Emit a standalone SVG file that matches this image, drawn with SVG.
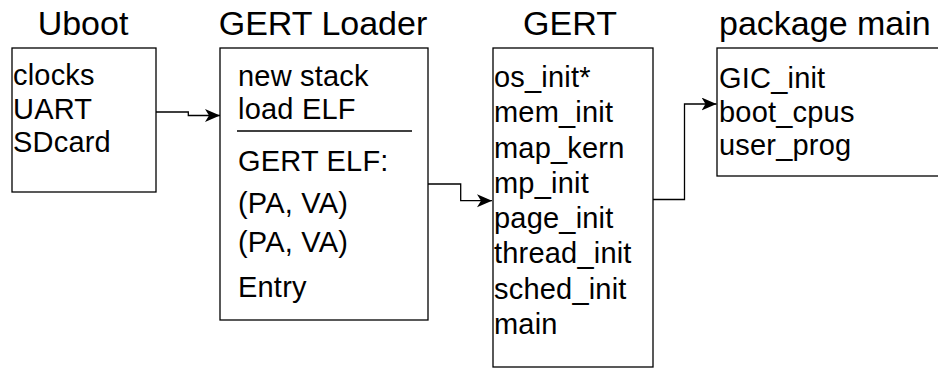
<svg xmlns="http://www.w3.org/2000/svg" width="938" height="368" viewBox="0 0 938 368">
<style>
  .box { fill: #fff; stroke: #000; stroke-width: 1.3; }
  .title { font-family: "Liberation Sans", Arial, sans-serif; font-size: 34px; fill: #000; }
  .t { font-family: "Liberation Sans", Arial, sans-serif; font-size: 29px; letter-spacing: 0.2px; fill: #000; }
  .edge { fill: none; stroke: #000; stroke-width: 1.3; marker-end: url(#arr); }
</style>
<defs>
  <marker id="arr" markerUnits="userSpaceOnUse" markerWidth="16" markerHeight="14" refX="15" refY="6.5" orient="auto">
    <path d="M0,0 L15,6.5 L0,13 L4,6.5 Z" fill="#000"/>
  </marker>
</defs>
<rect width="938" height="368" fill="#fff"/>

<g id="uboot">
  <text class="title" x="83" y="35" text-anchor="middle">Uboot</text>
  <rect class="box" x="12" y="48" width="144" height="144"/>
  <text class="t" x="13" y="85">clocks</text>
  <text class="t" x="13" y="119">UART</text>
  <text class="t" x="13" y="152">SDcard</text>
</g>

<g id="loader">
  <text class="title" x="323" y="35" text-anchor="middle">GERT Loader</text>
  <rect class="box" x="220" y="48" width="208" height="272"/>
  <text class="t" x="238" y="86">new stack</text>
  <text class="t" x="238" y="119">load ELF</text>
  <line x1="237" y1="131" x2="412" y2="131" stroke="#000" stroke-width="1.3"/>
  <text class="t" x="238" y="171">GERT ELF:</text>
  <text class="t" x="238" y="213">(PA, VA)</text>
  <text class="t" x="238" y="252">(PA, VA)</text>
  <text class="t" x="238" y="297">Entry</text>
</g>

<g id="gert">
  <text class="title" x="570" y="35" text-anchor="middle">GERT</text>
  <rect class="box" x="493" y="48" width="160" height="319"/>
  <text class="t" x="494" y="87">os_init*</text>
  <text class="t" x="494" y="122.3">mem_init</text>
  <text class="t" x="494" y="157.6">map_kern</text>
  <text class="t" x="494" y="192.9">mp_init</text>
  <text class="t" x="494" y="228.1">page_init</text>
  <text class="t" x="494" y="263.4">thread_init</text>
  <text class="t" x="494" y="298.7">sched_init</text>
  <text class="t" x="494" y="334">main</text>
</g>

<g id="pkgmain">
  <text class="title" x="719" y="35">package main</text>
  <rect class="box" x="717" y="48" width="240" height="128"/>
  <text class="t" x="719" y="88">GIC_init</text>
  <text class="t" x="719" y="122">boot_cpus</text>
  <text class="t" x="719" y="155">user_prog</text>
</g>

<g id="connectors">
  <path class="edge" d="M156,112 H188.3 V115.5 H220"/>
  <path class="edge" d="M428,184 H460.7 V200.7 H492"/>
  <path class="edge" d="M653,199.5 H684.5 V104 H716.5"/>
</g>
</svg>
